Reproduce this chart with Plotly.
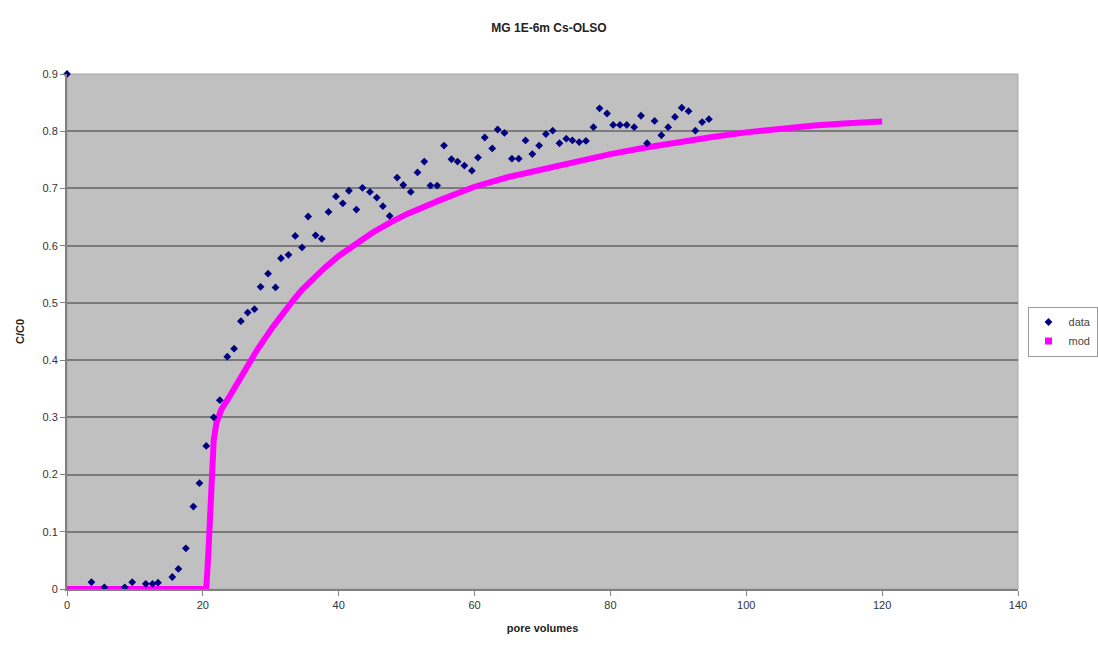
import plotly.graph_objects as go

# measured data (pore volumes, C/C0)
data_x = [0, 3.6, 5.5, 8.5, 9.6, 11.6, 12.6, 13.4, 15.5, 16.4,
          17.5, 18.6, 19.5, 20.5, 21.6, 22.5, 23.6, 24.6, 25.6, 26.6,
          27.6, 28.5, 29.6, 30.7, 31.5, 32.6, 33.6, 34.6, 35.5, 36.6,
          37.5, 38.5, 39.6, 40.6, 41.5, 42.6, 43.5, 44.6, 45.6, 46.5,
          47.5, 48.6, 49.5, 50.6, 51.6, 52.6, 53.5, 54.5, 55.5, 56.6,
          57.5, 58.5, 59.6, 60.5, 61.5, 62.6, 63.4, 64.4, 65.5, 66.5,
          67.5, 68.5, 69.5, 70.5, 71.5, 72.5, 73.5, 74.4, 75.4, 76.4,
          77.5, 78.4, 79.5, 80.4, 81.4, 82.4, 83.5, 84.5, 85.4, 86.5,
          87.5, 88.5, 89.5, 90.5, 91.5, 92.5, 93.5, 94.5]
data_y = [0.9, 0.012, 0.003, 0.003, 0.012, 0.009, 0.009, 0.011, 0.021, 0.035,
          0.071, 0.144, 0.185, 0.25, 0.30, 0.33, 0.406, 0.42, 0.468, 0.483,
          0.489, 0.528, 0.551, 0.527, 0.578, 0.584, 0.617, 0.597, 0.651, 0.618,
          0.612, 0.659, 0.686, 0.674, 0.696, 0.663, 0.701, 0.694, 0.684, 0.669,
          0.652, 0.719, 0.706, 0.694, 0.728, 0.747, 0.705, 0.705, 0.775, 0.751,
          0.747, 0.740, 0.731, 0.754, 0.789, 0.77, 0.803, 0.797, 0.752, 0.752,
          0.784, 0.76, 0.775, 0.795, 0.801, 0.779, 0.787, 0.784, 0.781, 0.783,
          0.807, 0.84, 0.831, 0.811, 0.811, 0.811, 0.807, 0.827, 0.779, 0.818,
          0.793, 0.807, 0.825, 0.841, 0.835, 0.801, 0.816, 0.821]

# model curve
mod_x = [0, 20.5, 20.8, 21.05, 21.3, 21.6, 22.0, 22.7, 24, 25.2, 26.4, 28, 30.3,
         31.7, 33.2, 34.6, 36, 38, 40, 42.5, 45, 47.5, 50, 55, 60, 65, 70, 75,
         80, 85, 90, 95, 100, 105, 110, 115, 120]
mod_y = [0, 0, 0.06, 0.11, 0.16, 0.26, 0.29, 0.313, 0.338, 0.362, 0.387, 0.418,
         0.458, 0.481, 0.503, 0.523, 0.54, 0.562, 0.582, 0.604, 0.623, 0.64,
         0.655, 0.68, 0.703, 0.72, 0.734, 0.747, 0.76, 0.771, 0.781, 0.79,
         0.798, 0.805, 0.81, 0.814, 0.817]

x_ticks = [0, 20, 40, 60, 80, 100, 120, 140]
y_ticks = [0, 0.1, 0.2, 0.3, 0.4, 0.5, 0.6, 0.7, 0.8, 0.9]
y_tick_text = ["0", "0.1", "0.2", "0.3", "0.4", "0.5", "0.6", "0.7", "0.8", "0.9"]

FONT = "Liberation Sans, Arial, sans-serif"
DATA_COLOR = "#000080"
MOD_COLOR = "#ff00ff"

fig = go.Figure()
fig.add_trace(go.Scatter(
    x=mod_x, y=mod_y, mode="lines", name="mod", showlegend=False,
    line=dict(color=MOD_COLOR, width=6), cliponaxis=False,
))
fig.add_trace(go.Scatter(
    x=data_x, y=data_y, mode="markers", name="data", showlegend=False,
    marker=dict(symbol="diamond", size=6, color=DATA_COLOR), cliponaxis=False,
))
# legend entries (Excel-style symbols)
fig.add_trace(go.Scatter(
    x=[None], y=[None], mode="markers", name="data",
    marker=dict(symbol="diamond", size=6, color=DATA_COLOR),
))
fig.add_trace(go.Scatter(
    x=[None], y=[None], mode="markers", name="mod",
    marker=dict(symbol="square", size=7, color=MOD_COLOR),
))

fig.update_layout(
    width=1098, height=650,
    margin=dict(l=67, r=80, t=74, b=61, autoexpand=False),
    paper_bgcolor="white",
    plot_bgcolor="#c0c0c0",
    font=dict(family=FONT, size=11, color="#333333"),
    title=dict(text="<b>MG 1E-6m Cs-OLSO</b>", x=0.5, xanchor="center",
               y=0.958, yanchor="middle", yref="container",
               font=dict(size=12, color="#222222", family=FONT)),
    showlegend=True,
    legend=dict(x=1.01, xanchor="left", y=0.5, yanchor="middle",
                bgcolor="white", bordercolor="#9a9a9a", borderwidth=1,
                font=dict(size=11, color="#444444"),
                itemwidth=30, tracegroupgap=0),
    xaxis=dict(range=[0, 140], tickvals=x_ticks, showgrid=False, zeroline=False,
               showline=True, linecolor="#808080", linewidth=2,
               ticks="outside", ticklen=5, tickcolor="#808080",
               mirror=False,
               title=dict(text="<b>pore volumes</b>", standoff=14,
                          font=dict(size=11, color="#222222"))),
    yaxis=dict(range=[0, 0.9], tickvals=y_ticks, ticktext=y_tick_text,
               showgrid=True, gridcolor="#7a7a7a", gridwidth=2, zeroline=False,
               showline=True, linecolor="#808080", linewidth=2,
               ticks="outside", ticklen=5, tickcolor="#808080",
               title=dict(text="<b>C/C0</b>", standoff=16,
                          font=dict(size=11, color="#222222"))),
)

# top/right frame of the plot area
fig.add_shape(type="rect", xref="paper", yref="paper", x0=0, y0=0, x1=1, y1=1,
              line=dict(color="#a8a8a8", width=1), layer="below")

fig.write_html("out.html")
